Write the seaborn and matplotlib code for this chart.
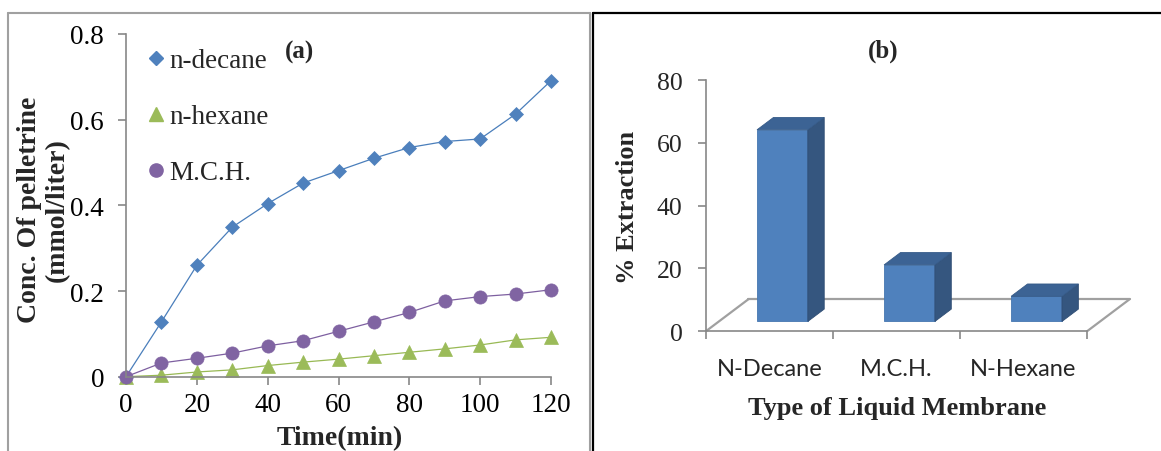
import matplotlib
matplotlib.use("Agg")
import matplotlib.pyplot as plt
import seaborn as sns
import numpy as np
from matplotlib.lines import Line2D
from matplotlib.patches import Polygon, Rectangle
from matplotlib.ticker import FuncFormatter

sns.set_theme(style="ticks")
plt.rcParams['font.family'] = ['Liberation Serif', 'DejaVu Serif']

# (a) concentration vs time
time_min = [0, 10, 20, 30, 40, 50, 60, 70, 80, 90, 100, 110, 120]
n_decane = [0, 0.128, 0.260, 0.349, 0.404, 0.452, 0.481, 0.510, 0.535, 0.549, 0.555, 0.613, 0.691]
n_hexane = [0, 0.0035, 0.011, 0.016, 0.026, 0.034, 0.041, 0.049, 0.057, 0.065, 0.074, 0.086, 0.092]
mch = [0, 0.032, 0.043, 0.055, 0.072, 0.084, 0.106, 0.128, 0.150, 0.177, 0.187, 0.193, 0.203]

# (b) % extraction by membrane
membranes = ["N-Decane", "M.C.H.", "N-Hexane"]
extraction = [61, 18, 8]

W, H = 1161, 452
fig = plt.figure(figsize=(W / 100, H / 100), dpi=100)
fig.patch.set_facecolor("white")

def fx(px):
    return px / W

def fy(py):
    return 1 - py / H

gray = "#878787"

# ---------- panel (a) ----------
ax1 = fig.add_axes([fx(126), fy(377.7), fx(551) - fx(126), fy(35) - fy(377.7)])
series = [
    ("n-decane", n_decane, "D", 7.0, "#4F81BD", "#4A7EBB"),
    ("n-hexane", n_hexane, "^", 9.5, "#9BBB59", "#98B954"),
    ("M.C.H.", mch, "o", 9.5, "#8064A2", "#7D5FA0"),
]
handles = []
for name, vals, mk, ms, mcol, lcol in series:
    sns.lineplot(x=time_min, y=vals, ax=ax1, color=lcol, lw=0.9, marker=mk,
                 markersize=ms, markerfacecolor=mcol, markeredgecolor=mcol,
                 markeredgewidth=0.5, clip_on=False, legend=False)
    handles.append(Line2D([], [], linestyle="none", marker=mk, markersize=ms,
                          markerfacecolor=mcol, markeredgecolor=mcol, label=name))

ax1.set_xlim(0, 120)
ax1.set_ylim(0, 0.8)
ax1.set_xticks(range(0, 121, 20))
ax1.set_yticks([0, 0.2, 0.4, 0.6, 0.8])
ax1.yaxis.set_major_formatter(FuncFormatter(lambda v, _: f"{v:g}"))
ax1.tick_params(axis="both", length=5.8, width=1.2, color=gray, labelsize=19.5,
                labelcolor="black", direction="out")
ax1.tick_params(axis="y", pad=10)
ax1.tick_params(axis="x", pad=5)
for s in ["top", "right"]:
    ax1.spines[s].set_visible(False)
for s in ["left", "bottom"]:
    ax1.spines[s].set_color(gray)
    ax1.spines[s].set_linewidth(1.2)
ax1.set_xlabel("")
ax1.set_ylabel("")

ax1.legend(handles=handles, loc="upper left", bbox_to_anchor=(fx(146), fy(49)),
           bbox_transform=fig.transFigure, frameon=False, fontsize=19.5,
           handlelength=0.75, handletextpad=0.12, labelspacing=1.15,
           borderpad=0, borderaxespad=0)

fig.text(fx(299), fy(52), "(a)", ha="center", va="center", fontsize=18, fontweight="bold")
fig.text(fx(43.5), fy(210), "Conc. Of pelletrine\n(mmol/liter)", rotation=90,
         ha="center", va="center", multialignment="center", fontsize=20,
         fontweight="bold", linespacing=1.15)
fig.text(fx(340), fy(445), "Time(min)", ha="center", va="baseline", fontsize=20,
         fontweight="bold")

# ---------- panel (b) ----------
ax2 = fig.add_axes([fx(705.8), fy(332.3), fx(1087) - fx(705.8), fy(81) - fy(332.3)])
sns.barplot(x=membranes, y=extraction, ax=ax2, color="#4F81BD", saturation=1,
            width=0.4, edgecolor="#4677B0", linewidth=0.6, zorder=3)
ax2.set_xlim(-0.5, 2.5)
ax2.set_ylim(0, 80)

floor_dx, floor_dy = 0.335, 10.2      # depth of floor (category units, y units)
bar_frac = 0.385                        # bar depth relative to floor depth
bdx, bdy = floor_dx * bar_frac, floor_dy * bar_frac
y0 = (floor_dy - bdy) / 2
xoff = (floor_dx - bdx) / 2
bw = 0.4

floor_kw = dict(color="#A0A0A0", lw=1.6, clip_on=False, zorder=1)
ax2.plot([-0.5 + floor_dx, 2.5 + floor_dx], [floor_dy, floor_dy], **floor_kw)
ax2.plot([-0.5, -0.5 + floor_dx], [0, floor_dy], **floor_kw)
ax2.plot([2.5, 2.5 + floor_dx], [0, floor_dy], **floor_kw)

for i, (patch, v) in enumerate(zip(ax2.patches, extraction)):
    x0 = i + xoff - bw / 2
    x1 = x0 + bw
    patch.set_x(x0)
    patch.set_width(bw)
    patch.set_y(y0)
    patch.set_height(v)
    side = Polygon([(x1, y0), (x1 + bdx, y0 + bdy), (x1 + bdx, y0 + bdy + v), (x1, y0 + v)],
                   closed=True, facecolor="#35567F", edgecolor="#2F4D74", lw=0.6,
                   zorder=3, clip_on=False)
    top = Polygon([(x0, y0 + v), (x0 + bdx, y0 + v + bdy), (x1 + bdx, y0 + v + bdy), (x1, y0 + v)],
                  closed=True, facecolor="#3C6394", edgecolor="#355A88", lw=0.6,
                  zorder=3, clip_on=False)
    ax2.add_patch(side)
    ax2.add_patch(top)

ax2.set_yticks([0, 20, 40, 60, 80])
ax2.set_xticks([0, 1, 2])
ax2.set_xticklabels(membranes, fontfamily="Lato", fontsize=17)
ax2.set_xticks([-0.5, 0.5, 1.5, 2.5], minor=True)
ax2.tick_params(axis="x", which="major", length=0, pad=19)
ax2.tick_params(axis="x", which="minor", length=5.8, width=1.2, color=gray)
ax2.tick_params(axis="y", length=5.8, width=1.2, color=gray, labelsize=18.5, pad=11)
for s in ["top", "right"]:
    ax2.spines[s].set_visible(False)
for s in ["left", "bottom"]:
    ax2.spines[s].set_color(gray)
    ax2.spines[s].set_linewidth(1.2)
ax2.set_xlabel("")
ax2.set_ylabel("")

fig.text(fx(883), fy(51), "(b)", ha="center", va="center", fontsize=18, fontweight="bold")
fig.text(fx(628), fy(207), "% Extraction", rotation=90, ha="center", va="center",
         fontsize=19, fontweight="bold")
fig.text(fx(897), fy(415), "Type of Liquid Membrane", ha="center", va="baseline",
         fontsize=19, fontweight="bold")

# panel frames
fig.add_artist(Line2D([fx(8), fx(590)], [fy(13.5), fy(13.5)], color="#A0A0A0", lw=1.5))
fig.add_artist(Line2D([fx(8), fx(8)], [fy(13.5), 0], color="#A0A0A0", lw=1.5))
fig.add_artist(Line2D([fx(590), fx(590)], [fy(13.5), 0], color="#A0A0A0", lw=1.5))
fig.add_artist(Line2D([fx(592.5), fx(592.5)], [fy(13.5), 0], color="black", lw=1.6))
fig.add_artist(Line2D([fx(592.5), 1], [fy(13.5), fy(13.5)], color="black", lw=1.6))

fig.savefig("out.png", dpi=100, facecolor="white")
